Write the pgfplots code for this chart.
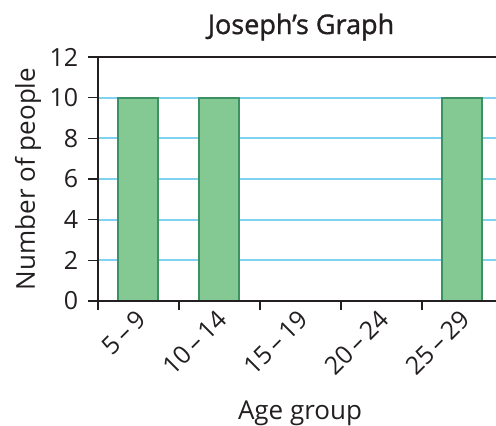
\documentclass[border=0pt]{standalone}
\usepackage{fontspec}
\setmainfont{Open Sans}
\newfontfamily\titlefont{Open Sans}[FakeBold=1.2]
\usepackage{pgfplots}
\pgfplotsset{compat=1.18}
\definecolor{barfill}{HTML}{84C893}
\definecolor{barline}{HTML}{3B9161}
\definecolor{gridblue}{HTML}{80D2F1}
\definecolor{ink}{HTML}{231F20}
\begin{document}
\fontsize{23bp}{27bp}\selectfont
\color{ink}
\begin{tikzpicture}
\useasboundingbox (-98bp,-125bp) rectangle (398bp,301bp);
\begin{axis}[
  at={(0,0)}, anchor=south west,
  scale only axis, width=398bp, height=244bp,
  xmin=-0.5, xmax=4.414, ymin=0, ymax=12,
  clip=false,
  axis line style={draw=none},
  /pgf/number format/assume math mode=true,
  xtick={0,1,2,3,4},
  xticklabels={5\,–\,9,10\,–\,14,15\,–\,19,20\,–\,24,25\,–\,29},
  minor xtick={-0.5,0.5,1.5,2.5,3.5},
  major x tick style={draw=none},
  minor x tick style={line width=1.5bp, ink},
  minor tick length=9bp,
  ytick={0,2,4,6,8,10,12},
  major y tick style={line width=1.5bp, ink},
  major tick length=10bp,
  tick align=outside,
  xtick pos=bottom, ytick pos=left,
  ymajorgrids,
  grid style={gridblue, line width=2bp},
  tick label style={font=\fontsize{25bp}{30bp}\selectfont},
  xticklabel style={rotate=45, anchor=east, xshift=7bp, yshift=-5bp},
  yticklabel style={anchor=east, xshift=-2bp},
  title={\titlefont Joseph’s Graph},
  title style={at={(axis description cs:0.5,1)}, anchor=base, xshift=4bp, yshift=17bp, font=\fontsize{27bp}{32bp}\selectfont},
  xlabel={Age group},
  xlabel style={at={(axis description cs:0.5,0)}, anchor=base, xshift=3bp, yshift=-118bp, font=\fontsize{26bp}{31bp}\selectfont},
  ylabel={Number of people},
  ylabel style={at={(axis description cs:-0.1583,0.5)}, rotate=0, anchor=base, font=\fontsize{26bp}{31bp}\selectfont},
]
\addplot[ybar, bar width=40bp, bar shift=0pt, fill=barfill, draw=barline, line width=2bp]
  coordinates {(0,10) (1,10) (2,0) (3,0) (4,10)};
\draw[ink, line width=2bp] (rel axis cs:0,1) -- (rel axis cs:0,0) -- (rel axis cs:1,0);
\draw[ink, line width=2bp] (rel axis cs:0,1) -- (rel axis cs:1,1);
\end{axis}
\end{tikzpicture}
\end{document}
